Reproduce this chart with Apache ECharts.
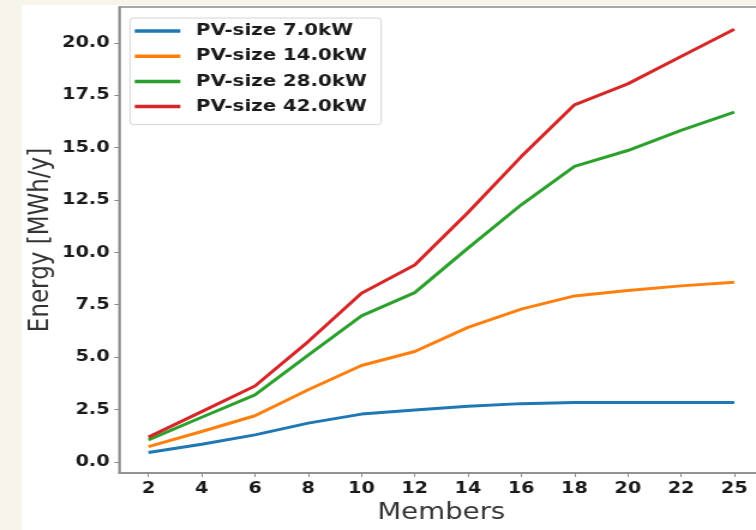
<!DOCTYPE html>
<html>
<head>
<meta charset="utf-8">
<script src="https://cdn.jsdelivr.net/npm/echarts@6/dist/echarts.min.js"></script>
<style>
  html, body { margin: 0; padding: 0; width: 756px; height: 530px; overflow: hidden; background: #f7f4ec; }
  #paper { position: absolute; left: 22px; top: 5px; width: 734px; height: 525px; background: #ffffff; }
  #chart { position: absolute; left: 0; top: 0; width: 630px; height: 530px; transform: scaleX(1.2); transform-origin: 0 0; }
</style>
</head>
<body>
<div id="paper"></div>
<div id="chart"></div>
<script>
// Data
const members = ['2', '4', '6', '8', '10', '12', '14', '16', '18', '20', '22', '25'];
const seriesNames = ['PV-size 7.0kW', 'PV-size 14.0kW', 'PV-size 28.0kW', 'PV-size 42.0kW'];
const pv7  = [0.45, 0.84, 1.29, 1.85, 2.28, 2.48, 2.65, 2.78, 2.83, 2.83, 2.83, 2.83];
const pv14 = [0.73, 1.45, 2.20, 3.44, 4.60, 5.27, 6.42, 7.29, 7.92, 8.18, 8.40, 8.57];
const pv28 = [1.05, 2.13, 3.20, 5.10, 6.97, 8.08, 10.20, 12.27, 14.10, 14.86, 15.82, 16.69];
const pv42 = [1.18, 2.40, 3.62, 5.74, 8.05, 9.40, 11.90, 14.57, 17.04, 18.04, 19.35, 20.65];
const yTicks = [0, 2.5, 5, 7.5, 10, 12.5, 15, 17.5, 20];
const colors = ['#1f77b4', '#ff7f0e', '#2ca02c', '#d62728'];

const allSeries = [pv7, pv14, pv28, pv42];
const idx = members.map((m, i) => i);

const chart = echarts.init(document.getElementById('chart'), null, { renderer: 'canvas' });
const frameColor = '#8c8c8c';
const option = {
  backgroundColor: 'transparent',
  animation: false,
  color: colors,
  grid: {
    left: 99.3, top: 7, width: 537, bottom: 57,
    show: true, borderColor: frameColor, borderWidth: 1.5, backgroundColor: 'transparent',
    containLabel: false,
    outerBoundsMode: 'none'
  },
  legend: {
    orient: 'vertical',
    left: 108.3, top: 18,
    padding: [3, 12, 8, 4],
    backgroundColor: '#ffffff',
    borderColor: '#d4d4d4', borderWidth: 1, borderRadius: 3,
    itemWidth: 38, itemHeight: 3.5, itemGap: 5.2,
    icon: 'rect',
    data: seriesNames,
    textStyle: {
      fontFamily: 'DejaVu Sans', fontWeight: 'bold', fontSize: 16.5, color: '#1a1a1a',
      lineHeight: 20, padding: [0, 0, 0, 8]
    }
  },
  xAxis: {
    type: 'value', min: -0.55, max: 11.55,
    name: 'Members', nameLocation: 'middle', nameGap: 29, nameMoveOverlap: false,
    nameTextStyle: { fontFamily: 'DejaVu Sans', fontSize: 23, color: '#333333' },
    axisLine: { show: true, onZero: false, lineStyle: { color: frameColor, width: 1.5 } },
    axisTick: { show: true, length: 4, customValues: idx, lineStyle: { color: frameColor, width: 1 } },
    axisLabel: {
      customValues: idx, margin: 8,
      formatter: v => members[Math.round(v)],
      fontFamily: 'DejaVu Sans', fontWeight: 'bold', fontSize: 16, color: '#1a1a1a'
    },
    splitLine: { show: false }
  },
  yAxis: {
    type: 'value', min: -0.531, max: 21.71,
    name: 'Energy [MWh/y]', nameLocation: 'middle', nameGap: 54, nameRotate: 90, nameMoveOverlap: false,
    nameTextStyle: { fontFamily: 'DejaVu Sans', fontSize: 23, color: '#333333' },
    axisLine: { show: true, onZero: false, lineStyle: { color: frameColor, width: 1.5 } },
    axisTick: { show: true, length: 4, customValues: yTicks, lineStyle: { color: frameColor, width: 1 } },
    axisLabel: {
      customValues: yTicks, margin: 8,
      formatter: v => v.toFixed(1),
      fontFamily: 'DejaVu Sans', fontWeight: 'bold', fontSize: 16, color: '#1a1a1a'
    },
    splitLine: { show: false }
  },
  series: allSeries.map((vals, k) => ({
    name: seriesNames[k],
    type: 'line',
    data: vals.map((v, i) => [i, v]),
    symbol: 'none',
    lineStyle: { width: 3, color: colors[k] },
    itemStyle: { color: colors[k] }
  }))
};
chart.setOption(option);
</script>
</body>
</html>
